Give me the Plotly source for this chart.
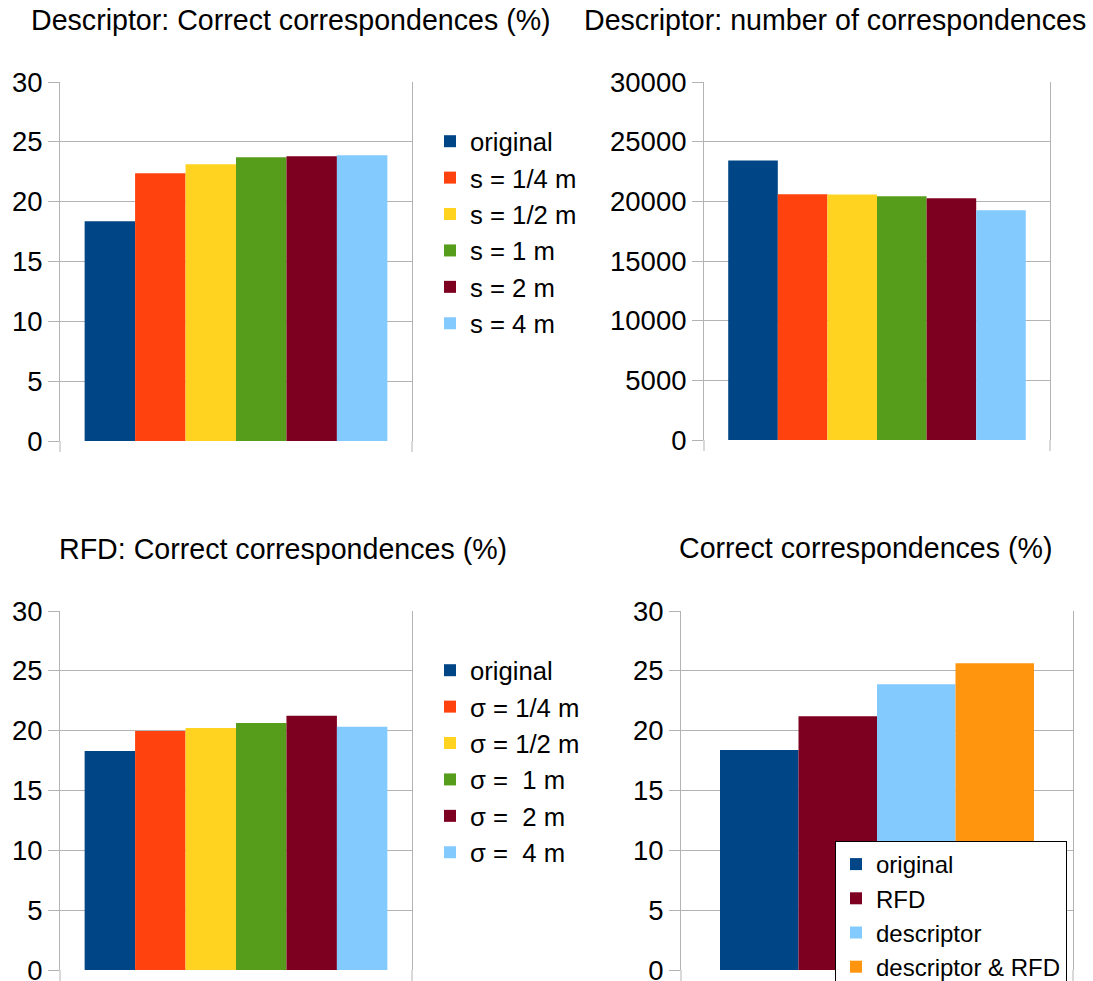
import plotly.graph_objects as go

W, H = 1093, 981
FONT = "Liberation Sans"
GRID = "#b3b3b3"

# --- data -------------------------------------------------------------
desc_labels = ["original", "s = 1/4 m", "s = 1/2 m", "s = 1 m", "s = 2 m", "s = 4 m"]
desc_correct = [18.37, 22.38, 23.13, 23.71, 23.80, 23.88]
desc_count = [23430, 20590, 20580, 20420, 20250, 19250]

rfd_labels = ["original", "σ = 1/4 m", "σ = 1/2 m", "σ = \u00a01 m", "σ = \u00a02 m", "σ = \u00a04 m"]
rfd_correct = [18.31, 19.98, 20.23, 20.65, 21.24, 20.32]

combo_labels = ["original", "RFD", "descriptor", "descriptor & RFD"]
combo_correct = [18.38, 21.21, 23.88, 25.63]

titles = [
    "Descriptor: Correct correspondences (%)",
    "Descriptor: number of correspondences",
    "RFD: Correct correspondences (%)",
    "Correct correspondences (%)",
]

six_colors = ["#004586", "#ff420e", "#ffd320", "#579d1c", "#7e0021", "#83caff"]
combo_colors = ["#004586", "#7e0021", "#83caff", "#ff950e"]


def px_x(v):
    return v / W


def px_y(v):
    return 1 - v / H


# plot areas in page pixels: (left, right, top, bottom)
areas = {
    1: (60, 412, 82, 441),
    2: (704, 1050, 82, 440),
    3: (60, 412, 611, 970),
    4: (681, 1073, 611, 970),
}

fig = go.Figure()
CAT = ["set"]


def add_bars(idx, labels, values, colors, legend_name):
    for lab, val, col in zip(labels, values, colors):
        fig.add_trace(go.Bar(
            x=CAT, y=[val], name=lab,
            marker=dict(color=col, line=dict(width=0)),
            xaxis="x" if idx == 1 else f"x{idx}",
            yaxis="y" if idx == 1 else f"y{idx}",
            legend=legend_name,
            showlegend=legend_name is not None,
            hoverinfo="y+name",
        ))


add_bars(1, desc_labels, desc_correct, six_colors, "legend")
add_bars(2, desc_labels, desc_count, six_colors, None)
add_bars(3, rfd_labels, rfd_correct, six_colors, "legend2")
add_bars(4, combo_labels, combo_correct, combo_colors, "legend3")

layout = dict(
    width=W, height=H,
    margin=dict(l=0, r=0, t=0, b=0, autoexpand=False),
    paper_bgcolor="white", plot_bgcolor="white",
    barmode="group", bargap=0.14, bargroupgap=0,
    font=dict(family=FONT, color="black", size=27.5),
    shapes=[], annotations=[],
)

yranges = {1: [0, 30], 2: [0, 30000], 3: [0, 30], 4: [0, 30]}
dticks = {1: 5, 2: 5000, 3: 5, 4: 5}
xranges = {1: [-0.5, 0.5], 2: [-0.5, 0.5], 3: [-0.5, 0.5], 4: [-0.5368, 0.5368]}

for i, (l, r, t, b) in areas.items():
    sx = "xaxis" if i == 1 else f"xaxis{i}"
    sy = "yaxis" if i == 1 else f"yaxis{i}"
    ax_x = "x" if i == 1 else f"x{i}"
    ax_y = "y" if i == 1 else f"y{i}"
    layout[sx] = dict(
        domain=[px_x(l), px_x(r)], anchor=ax_y, type="category",
        range=xranges[i], showticklabels=False, ticks="",
        showgrid=False, zeroline=False, showline=False, fixedrange=True,
    )
    layout[sy] = dict(
        domain=[px_y(b), px_y(t)], anchor=ax_x, range=yranges[i],
        dtick=dticks[i], tick0=0, showgrid=True, gridcolor=GRID, gridwidth=1,
        zeroline=False, showline=True, linecolor=GRID, linewidth=1, mirror=True,
        ticks="outside", ticklen=11, tickcolor=GRID, tickwidth=1,
        tickfont=dict(family=FONT, size=27.5, color="black"),
        ticklabeloverflow="allow", tickformat="d", fixedrange=True,
    )
    # short marks below the base line at both plot edges
    for xd in (0, 1):
        layout["shapes"].append(dict(
            type="line", xref=f"{ax_x} domain", yref=f"{ax_y} domain",
            x0=xd, x1=xd, ysizemode="pixel", yanchor=0, y0=0, y1=-11,
            line=dict(color=GRID, width=1), layer="below",
        ))

title_pos = [(291, 20), (835, 20), (283, 549), (865, 548)]
for txt, (cx, cy) in zip(titles, title_pos):
    layout["annotations"].append(dict(
        text=txt, xref="paper", yref="paper", x=px_x(cx), y=px_y(cy),
        xanchor="center", yanchor="middle", showarrow=False,
        font=dict(family=FONT, size=28.6, color="black"),
    ))

layout["legend"] = dict(
    x=px_x(430), y=px_y(118), xanchor="left", yanchor="top",
    bgcolor="rgba(0,0,0,0)", borderwidth=0,
    font=dict(family=FONT, size=25.7, color="black"),
    traceorder="normal",
)
layout["legend2"] = dict(
    x=px_x(430), y=px_y(647), xanchor="left", yanchor="top",
    bgcolor="rgba(0,0,0,0)", borderwidth=0,
    font=dict(family=FONT, size=25.7, color="black"),
    traceorder="normal",
)
layout["legend3"] = dict(
    x=px_x(835), y=px_y(841), xanchor="left", yanchor="top",
    bgcolor="white", bordercolor="black", borderwidth=1,
    font=dict(family=FONT, size=24, color="black"),
    traceorder="normal",
)

fig.update_layout(**layout)
fig.write_html("out.html", config={"displayModeBar": False})
